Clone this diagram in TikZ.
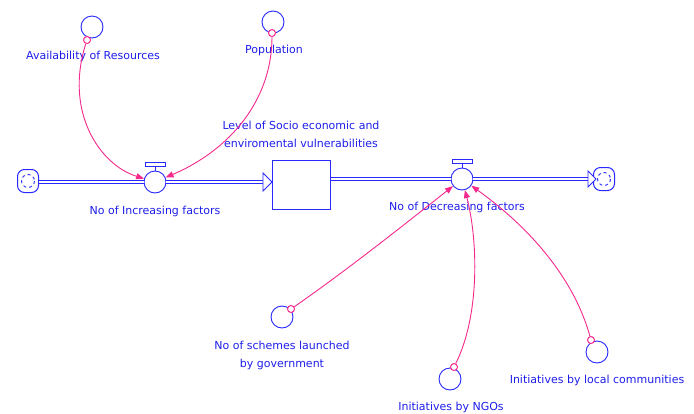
\documentclass[tikz,border=0pt]{standalone}
\usepackage{fontspec}
\setmainfont{DejaVu Sans}
\usetikzlibrary{arrows.meta}
\definecolor{vblue}{RGB}{40,40,255}
\definecolor{vtext}{RGB}{30,30,235}
\definecolor{vpink}{RGB}{245,40,140}
\begin{document}
\begin{tikzpicture}[x=1pt,y=-1pt,
  lbl/.style={text=vtext,font=\fontsize{11}{18}\selectfont,inner sep=0pt,align=center},
  aux/.style={circle,draw=vblue,fill=white,minimum size=22pt,inner sep=0pt,line width=0.9pt},
  valve/.style={circle,draw=vblue,fill=white,minimum size=22pt,inner sep=0pt,line width=0.9pt},
  src/.style={circle,draw=vpink,fill=white,minimum size=7pt,inner sep=0pt,line width=1pt},
  conn/.style={draw=vpink,line width=0.9pt,-{Triangle[length=8pt,width=6pt]}},
  pipe/.style={draw=vblue,double=white,double distance=2pt,line width=0.9pt},
  cloudbox/.style={rectangle,rounded corners=7pt,draw=vblue,line width=1pt,minimum width=21pt,minimum height=23pt,inner sep=0pt},
  headtri/.style={draw=vblue,fill=white,line width=0.9pt},
  stockbox/.style={rectangle,draw=vblue,line width=1pt,minimum width=58pt,minimum height=49pt,inner sep=0pt}]
\useasboundingbox (0,0) rectangle (694,413);

% clouds
\node[cloudbox] (cL) at (28,181) {};
\draw[vblue,line width=0.9pt,dash pattern=on 3pt off 3pt] (cL) circle (6.5);
\node[cloudbox] (cR) at (604,179) {};
\draw[vblue,line width=0.9pt,dash pattern=on 3pt off 3pt] (cR) circle (6.5);

% stock
\node[stockbox] (stock) at (301,184.5) {};

% valves
\node[valve] (v1) at (155,182) {};
\node[valve] (v2) at (462,179) {};
\draw[vblue,line width=0.9pt] (v1.north) -- ++(0,-4);
\draw[vblue,fill=white,line width=0.9pt] (v1.north) ++(-10,-4) rectangle ++(20,-4);
\draw[vblue,line width=0.9pt] (v2.north) -- ++(0,-4);
\draw[vblue,fill=white,line width=0.9pt] (v2.north) ++(-10,-4) rectangle ++(20,-4);

% pipes
\coordinate (tipL) at (272,182);
\coordinate (baseL) at (263,182);
\coordinate (tipR) at (596,179);
\coordinate (baseR) at (588,179);
\draw[pipe] (cL.east |- v1) -- (v1.west);
\draw[pipe] (v1.east) -- (baseL);
\draw[headtri] (baseL) ++(0,-9) -- (tipL) -- ++(-9,9) -- cycle;
\draw[pipe] (stock.east |- v2) -- (v2.west);
\draw[pipe] (v2.east) -- (baseR);
\draw[headtri] (baseR) ++(0,-8) -- (tipR) -- ++(-8,8) -- cycle;

% auxiliaries
\node[aux] (avail) at (92,27) {};
\node[aux] (pop) at (273,22) {};
\node[aux] (schemes) at (282,317) {};
\node[aux] (ngo) at (450,379) {};
\node[aux] (local) at (597,352) {};

\node[src] (pAvail) at (87,40) {};
\node[src] (pPop) at (272,33) {};
\node[src] (pSch) at (291,309) {};
\node[src] (pNgo) at (454,367) {};
\node[src] (pLoc) at (591,340) {};

% labels
\node[lbl] (lAvail) at (93,56) {Availability of Resources};
\node[lbl] (lPop) at (274,50) {Population};
\node[lbl] (lStock) at (301,134) {Level of Socio economic and\\enviromental vulnerabilities};
\node[lbl] (lV1) at (155,211) {No of Increasing factors};
\node[lbl] (lV2) at (457,207) {No of Decreasing factors};
\node[lbl] (lSch) at (282,355) {No of schemes launched\\by government};
\node[lbl] (lNgo) at (451,407) {Initiatives by NGOs};
\node[lbl] (lLoc) at (597,380) {Initiatives by local communities};

% connectors
\draw[conn] (pAvail) .. controls (64,112) and (100,165) .. (v1);
\draw[conn] (pPop) .. controls (272,100) and (230,150) .. (v1);
\draw[conn] (pSch) .. controls (350,268) and (410,220) .. (v2);
\draw[conn] (pNgo) .. controls (480,315) and (478,240) .. (v2);
\draw[conn] (pLoc) .. controls (572,272) and (522,222) .. (v2);
\end{tikzpicture}
\end{document}
